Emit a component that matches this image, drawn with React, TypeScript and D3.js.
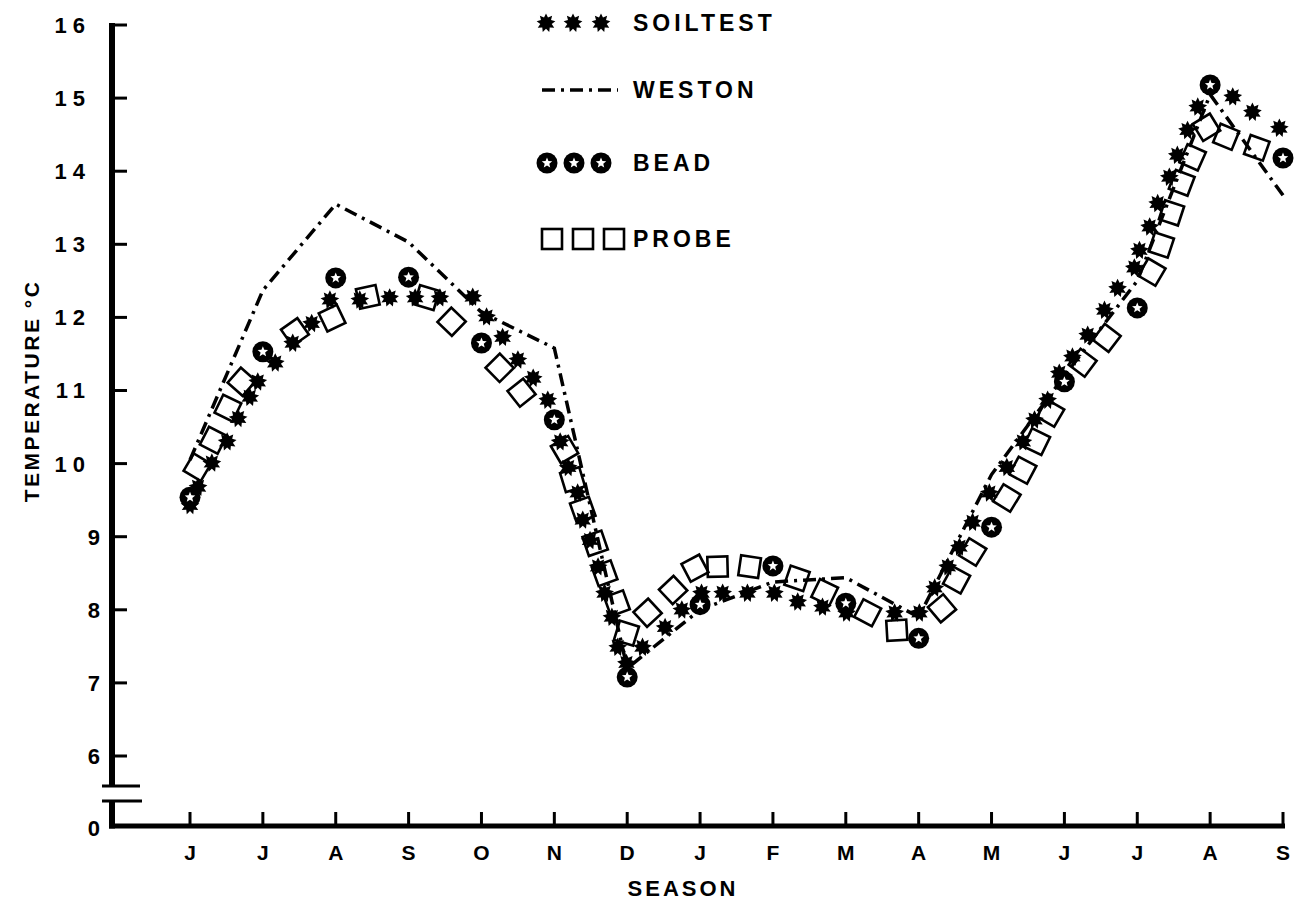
import React from 'react';
import * as d3 from 'd3';

const monthLabels = ['J', 'J', 'A', 'S', 'O', 'N', 'D', 'J', 'F', 'M', 'A', 'M', 'J', 'J', 'A', 'S'];
const yTicks = [6, 7, 8, 9, 10, 11, 12, 13, 14, 15, 16];

const westonMonth = [0, 1, 2, 3, 4, 5, 6, 7, 8, 9, 10, 11, 12, 13, 14, 15];
const westonTemp = [10.05, 12.37, 13.55, 13.03, 12.07, 11.58, 7.2, 8.0, 8.38, 8.44, 7.9, 9.85, 11.2, 12.5, 15.05, 13.67];

const beadMonth = [0, 1, 2, 3, 4, 5, 6, 7, 8, 9, 10, 11, 12, 13, 14, 15];
const beadTemp = [9.54, 11.53, 12.54, 12.55, 11.65, 10.6, 7.08, 8.07, 8.6, 8.09, 7.61, 9.13, 11.12, 12.13, 15.18, 14.18];

const soiltestMonth = [0.0, 0.11, 0.3, 0.51, 0.66, 0.82, 0.93, 1.17, 1.41, 1.67, 1.92, 2.33, 2.74, 3.09, 3.43, 3.88, 4.07, 4.29, 4.5, 4.71, 4.91, 5.08, 5.19, 5.32, 5.39, 5.49, 5.6, 5.69, 5.79, 5.87, 5.99, 6.21, 6.52, 6.75, 7.02, 7.31, 7.65, 8.02, 8.34, 8.68, 9.01, 9.67, 10.01, 10.22, 10.4, 10.56, 10.74, 10.97, 11.21, 11.43, 11.59, 11.77, 11.93, 12.11, 12.32, 12.55, 12.73, 12.96, 13.03, 13.17, 13.28, 13.44, 13.55, 13.69, 13.83, 14.31, 14.58, 14.95];
const soiltestTemp = [9.43, 9.68, 10.01, 10.3, 10.62, 10.91, 11.12, 11.38, 11.65, 11.92, 12.24, 12.24, 12.27, 12.27, 12.27, 12.28, 12.01, 11.73, 11.42, 11.17, 10.87, 10.3, 9.95, 9.6, 9.23, 8.95, 8.59, 8.23, 7.9, 7.49, 7.27, 7.49, 7.76, 8.0, 8.23, 8.23, 8.23, 8.23, 8.11, 8.04, 7.96, 7.96, 7.96, 8.3, 8.59, 8.86, 9.2, 9.6, 9.95, 10.3, 10.6, 10.87, 11.24, 11.46, 11.76, 12.1, 12.4, 12.68, 12.92, 13.24, 13.56, 13.92, 14.22, 14.56, 14.88, 15.02, 14.81, 14.59];

const probeMonth = [0.1, 0.32, 0.52, 0.71, 1.44, 1.95, 2.44, 3.25, 3.59, 4.25, 4.55, 5.14, 5.25, 5.39, 5.56, 5.69, 5.86, 5.99, 6.28, 6.63, 6.93, 7.24, 7.68, 8.33, 8.71, 9.3, 9.7, 10.32, 10.52, 10.74, 11.21, 11.43, 11.62, 11.81, 12.25, 12.58, 13.2, 13.33, 13.47, 13.61, 13.76, 13.95, 14.22, 14.64];
const probeTemp = [9.95, 10.32, 10.76, 11.12, 11.8, 11.99, 12.28, 12.27, 11.94, 11.31, 10.97, 10.19, 9.78, 9.37, 8.91, 8.5, 8.09, 7.68, 7.96, 8.27, 8.57, 8.59, 8.59, 8.43, 8.24, 7.96, 7.72, 8.02, 8.41, 8.79, 9.53, 9.91, 10.3, 10.69, 11.38, 11.72, 12.62, 12.99, 13.43, 13.84, 14.19, 14.6, 14.47, 14.32];

const FONT = '"Liberation Sans", Arial, sans-serif';

function starPath(n: number, ro: number, ri: number, rot = -Math.PI / 2) {
  const pts: [number, number][] = [];
  for (let i = 0; i < n * 2; i++) {
    const r = i % 2 === 0 ? ro : ri;
    const a = rot + (i * Math.PI) / n;
    pts.push([r * Math.cos(a), r * Math.sin(a)]);
  }
  return 'M' + pts.map((p) => p[0].toFixed(2) + ',' + p[1].toFixed(2)).join('L') + 'Z';
}

const soilStar = starPath(9, 9.5, 5.8);
const beadStar = starPath(5, 5.5, 2.4);

function Soil({ x, y }: { x: number; y: number }) {
  return <path d={soilStar} transform={`translate(${x},${y})`} fill="#000" />;
}
function Bead({ x, y }: { x: number; y: number }) {
  return (
    <g transform={`translate(${x},${y})`}>
      <circle r={10.5} fill="#000" />
      <path d={beadStar} fill="#fff" />
    </g>
  );
}
function Probe({ x, y, a }: { x: number; y: number; a: number }) {
  return (
    <rect x={-10} y={-10} width={20} height={20} fill="none" stroke="#000" strokeWidth={2.6}
      transform={`translate(${x},${y}) rotate(${a})`} />
  );
}

export default function App() {
  const W = 1298, H = 903;
  const x = d3.scaleLinear().domain([0, 15]).range([190, 1283]);
  const y = d3.scaleLinear().domain([6, 16]).range([756, 25]);
  const axisX = 112;
  const baseY = 826;
  const breakTop = 786, breakBot = 801;

  const westonLine = d3.line<number>()
    .x((_, i) => x(westonMonth[i]))
    .y((d) => y(d))(westonTemp) as string;

  const probePts = probeMonth.map((m, i) => [x(m), y(probeTemp[i])]);
  const probeAngles = probePts.map((p, i) => {
    const a = probePts[Math.max(0, i - 1)];
    const b = probePts[Math.min(probePts.length - 1, i + 1)];
    let ang = (Math.atan2(b[1] - a[1], b[0] - a[0]) * 180) / Math.PI;
    ang = ((ang % 90) + 90) % 90;
    if (ang > 45) ang -= 90;
    return ang;
  });

  const txt = { fontFamily: FONT, fontWeight: 700, fill: '#000' } as const;

  return (
    <svg width={W} height={H} style={{ position: 'absolute', left: 0, top: 0, background: '#fff' }}>
      <rect width={W} height={H} fill="#fff" />
      {/* axes */}
      <line x1={axisX} x2={axisX} y1={y(16) - 2} y2={breakTop} stroke="#000" strokeWidth={6} />
      <line x1={axisX} x2={axisX} y1={breakBot} y2={baseY + 2.5} stroke="#000" strokeWidth={6} />
      <line x1={axisX - 3} x2={x(15) + 2} y1={baseY} y2={baseY} stroke="#000" strokeWidth={5} />
      <line x1={102} x2={140} y1={breakTop} y2={breakTop} stroke="#000" strokeWidth={3} />
      <line x1={102} x2={142} y1={breakBot} y2={breakBot} stroke="#000" strokeWidth={3} />
      {yTicks.map((t) => (
        <g key={t}>
          <line x1={axisX} x2={axisX + 15} y1={y(t)} y2={y(t)} stroke="#000" strokeWidth={3} />
          <text x={t >= 10 ? 91 : 100} y={y(t)} dy="0.36em" textAnchor="end" fontSize={22} letterSpacing={t >= 10 ? 6 : 0} {...txt}>{t}</text>
        </g>
      ))}
      <text x={100} y={baseY + 2} dy="0.36em" textAnchor="end" fontSize={22} {...txt}>0</text>
      {monthLabels.map((m, i) => (
        <g key={i}>
          <line x1={x(i)} x2={x(i)} y1={baseY} y2={baseY - 14} stroke="#000" strokeWidth={3} />
          <text x={x(i)} y={852} dy="0.36em" textAnchor="middle" fontSize={21} {...txt}>{m}</text>
        </g>
      ))}
      <text x={683} y={888} dy="0.36em" textAnchor="middle" fontSize={22} letterSpacing={3} {...txt}>SEASON</text>
      <text transform="translate(31,391) rotate(-90)" textAnchor="middle" dy="0.36em" fontSize={21} letterSpacing={2.5} {...txt}>TEMPERATURE °C</text>

      {/* data */}
      <path d={westonLine} fill="none" stroke="#000" strokeWidth={3.5} strokeDasharray="13 6 3 6" />
      {soiltestMonth.map((m, i) => <Soil key={i} x={x(m)} y={y(soiltestTemp[i])} />)}
      {probePts.map((p, i) => <Probe key={i} x={p[0]} y={p[1]} a={probeAngles[i]} />)}
      {beadMonth.map((m, i) => <Bead key={i} x={x(m)} y={y(beadTemp[i])} />)}

      {/* legend */}
      <g>
        {[546, 573, 601].map((lx) => <Soil key={lx} x={lx} y={23} />)}
        <text x={633} y={23} dy="0.36em" fontSize={23} letterSpacing={4} {...txt}>SOILTEST</text>
        <line x1={542} x2={618} y1={90} y2={90} stroke="#000" strokeWidth={3.5} strokeDasharray="13 6 3 6" />
        <text x={633} y={90} dy="0.36em" fontSize={23} letterSpacing={4} {...txt}>WESTON</text>
        {[547, 574, 601].map((lx) => <Bead key={lx} x={lx} y={163} />)}
        <text x={633} y={163} dy="0.36em" fontSize={23} letterSpacing={4} {...txt}>BEAD</text>
        {[552, 583, 614].map((lx) => <Probe key={lx} x={lx} y={239} a={0} />)}
        <text x={633} y={239} dy="0.36em" fontSize={23} letterSpacing={4} {...txt}>PROBE</text>
      </g>
    </svg>
  );
}
